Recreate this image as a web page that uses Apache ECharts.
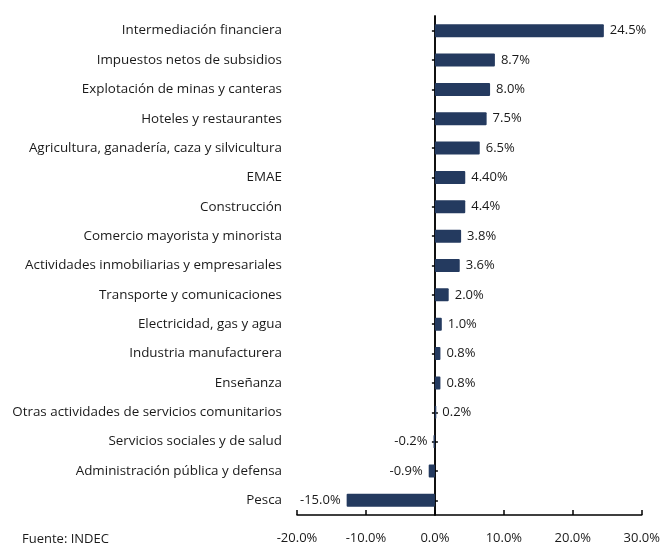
<!DOCTYPE html>
<html>
<head>
<meta charset="utf-8">
<script src="https://cdn.jsdelivr.net/npm/echarts@6/dist/echarts.min.js"></script>
<style>
html,body{margin:0;padding:0;background:#fff;}
#main{width:663px;height:545px;}
</style>
</head>
<body>
<div id="main"></div>
<script>
// categories top to bottom
var categorias = [
	'Intermediación financiera',
	'Impuestos netos de subsidios',
	'Explotación de minas y canteras',
	'Hoteles y restaurantes',
	'Agricultura, ganadería, caza y silvicultura',
	'EMAE',
	'Construcción',
	'Comercio mayorista y minorista',
	'Actividades inmobiliarias y empresariales',
	'Transporte y comunicaciones',
	'Electricidad, gas y agua',
	'Industria manufacturera',
	'Enseñanza',
	'Otras actividades de servicios comunitarios',
	'Servicios sociales y de salud',
	'Administración pública y defensa',
	'Pesca'
];
// bar lengths as drawn
var valores = [24.5, 8.7, 8.0, 7.5, 6.5, 4.4, 4.4, 3.8, 3.6, 2.0, 1.0, 0.8, 0.8, 0.2, -0.2, -0.9, -12.8];
// label texts as printed
var etiquetas = ['24.5%','8.7%','8.0%','7.5%','6.5%','4.40%','4.4%','3.8%','3.6%','2.0%','1.0%','0.8%','0.8%','0.2%','-0.2%','-0.9%','-15.0%'];

var fuente = 'Open Sans';
var cats = categorias.slice().reverse();
var vals = valores.slice().reverse();
var labs = etiquetas.slice().reverse();

var datos = [];
for (var i = 0; i < vals.length; i++) {
	datos.push({
		value: vals[i],
		label: {position: vals[i] < 0 ? 'left' : 'right', formatter: labs[i]}
	});
}

var myChart = echarts.init(document.getElementById('main'));
var option = {
	animation: false,
	grid: {left: 297, right: 21, top: 16, bottom: 29},
	xAxis: [
		{
			type: 'value',
			min: -20, max: 30, interval: 10,
			axisLine: {show: true, onZero: false, lineStyle: {color: '#000', width: 1.5}},
			axisTick: {show: true, inside: true, length: 5, lineStyle: {color: '#000', width: 1.5}},
			splitLine: {show: false},
			axisLabel: {
				margin: 17, color: '#1a1a1a', fontFamily: fuente, fontSize: 13,
				formatter: function(v){ return v.toFixed(1) + '%'; }
			}
		},
		{
			type: 'value', min: -20, max: 30, interval: 10, show: false
		}
	],
	yAxis: [
		{
			type: 'category', data: cats, position: 'left',
			axisLine: {show: false, onZero: false}, axisTick: {show: false},
			axisLabel: {margin: 15, color: '#1a1a1a', fontFamily: fuente, fontSize: 13.4}
		},
		{
			type: 'category', data: cats, position: 'left',
			axisLine: {show: true, onZero: true, onZeroAxisIndex: 0, lineStyle: {color: '#000', width: 1.5}},
			axisTick: {show: true, alignWithLabel: true, length: 3, lineStyle: {color: '#000', width: 1.5}},
			axisLabel: {show: false}
		},
		{
			type: 'category', data: cats, position: 'left',
			axisLine: {show: true, onZero: true, onZeroAxisIndex: 1, lineStyle: {color: '#000', width: 1.5}},
			axisTick: {show: true, inside: true, alignWithLabel: true, length: 3, lineStyle: {color: '#000', width: 1.5}},
			axisLabel: {show: false}
		}
	],
	series: [{
		type: 'bar',
		yAxisIndex: 0,
		data: datos,
		barWidth: 13,
		itemStyle: {color: '#243a5f', borderRadius: 1},
		label: {show: true, distance: 6, color: '#1a1a1a', fontFamily: fuente, fontSize: 13}
	}],
	graphic: [{
		type: 'text', left: 22, top: 533,
		style: {text: 'Fuente: INDEC', fill: '#1a1a1a', font: '13px "Open Sans"'}
	}]
};
myChart.setOption(option);
</script>
</body>
</html>
